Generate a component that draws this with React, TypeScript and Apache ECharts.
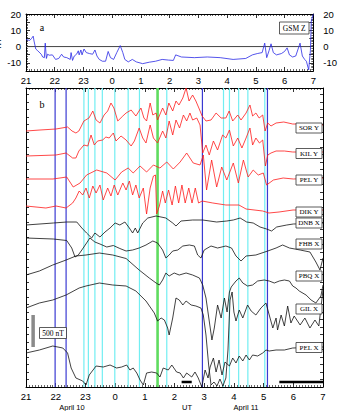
import React, { useEffect, useRef } from "react";
import * as echarts from "echarts";

// ---------- DATA (time in hours from 21 UT on April 10; 24+ = April 11) ----------
// Panel a: GSM Z (nT)
const GSM_Z: [number, number][] = [
  [21.0, 4.3], [21.13, 3.8], [21.19, 4.9], [21.25, 6.4], [21.28, 3.4], [21.34, -1.5], [21.41, -2.6], [21.53, -4.7],
  [21.58, -6.4], [21.64, -6.8], [21.67, 2.1], [21.71, -7.3], [21.75, -4.7], [21.81, -5.3], [21.92, -5.1], [22.03, -7.9],
  [22.14, -7.3], [22.24, -4.7], [22.31, -6.4], [22.42, -6.8], [22.54, -7.9], [22.57, -3.7], [22.62, -8.5], [22.68, -5.8],
  [22.76, -4.7], [22.82, -2.6], [22.85, -5.1], [22.91, -2.1], [22.95, -5.1], [23.02, -1.5], [23.1, -3.7], [23.21, -4.3],
  [23.32, -4.7], [23.4, -2.1], [23.47, -5.8], [23.55, -7.9], [23.66, -9.0], [23.77, -9.0], [23.86, -3.0], [23.94, -6.8],
  [24.05, -7.9], [24.16, -3.7], [24.28, 0.6], [24.37, -3.7], [24.44, -7.9], [24.56, -9.4], [24.7, -7.9], [24.84, -9.4],
  [25.06, -10.5], [25.29, -9.6], [25.51, -9.0], [25.74, -7.9], [25.96, -8.3], [26.13, -8.5], [26.21, -5.1], [26.41, -6.4],
  [26.86, -6.8], [27.31, -6.4], [27.76, -6.8], [28.21, -7.9], [28.65, -7.3], [28.88, -5.1], [29.05, -4.3], [29.22, -3.7],
  [29.31, 2.1], [29.38, -6.8], [29.46, -2.6], [29.53, 1.7], [29.61, -3.7], [29.72, -5.1], [29.89, -4.3], [30.0, -3.0],
  [30.09, -0.8], [30.17, -5.1], [30.28, -6.4], [30.39, -5.8], [30.54, 2.1], [30.62, -5.8], [30.7, -7.9], [30.76, -9.0],
  [30.84, -14.3], [30.9, -2.6], [30.93, 15.6], [31.0, 19.9],
];

// Panel b: stacked magnetograms (stack units; 32 units = 500 nT)
const SOR_Y: [number, number][] = [
  [21.0, 256], [21.47, 257], [22.01, 258], [22.4, 260], [22.55, 256], [22.68, 254], [22.78, 256], [22.95, 266],
  [23.12, 269], [23.25, 276], [23.36, 267], [23.49, 264], [23.63, 272], [23.75, 276], [23.86, 284], [23.96, 279],
  [24.09, 266], [24.26, 271], [24.37, 274], [24.54, 277], [24.7, 271], [24.87, 279], [24.97, 269], [25.06, 266],
  [25.18, 284], [25.27, 272], [25.38, 274], [25.43, 267], [25.6, 279], [25.71, 272], [25.81, 284], [25.94, 276],
  [26.05, 286], [26.15, 282], [26.28, 289], [26.39, 299], [26.49, 286], [26.61, 292], [26.72, 286], [26.82, 279],
  [26.93, 271], [27.06, 266], [27.23, 267], [27.4, 274], [27.57, 269], [27.73, 269], [27.84, 276], [27.96, 266],
  [28.13, 272], [28.24, 267], [28.41, 274], [28.54, 282], [28.63, 271], [28.74, 274], [28.85, 269], [28.97, 272],
  [29.05, 256], [29.14, 264], [29.25, 261], [29.42, 264], [29.68, 265], [29.98, 263], [30.23, 263], [30.56, 262], [31.0, 262],
];
const KIL_Y: [number, number][] = [
  [21.0, 231], [22.01, 232], [22.35, 234], [22.57, 229], [22.68, 229], [22.78, 236], [22.95, 242], [23.08, 241],
  [23.19, 252], [23.3, 242], [23.41, 246], [23.58, 247], [23.69, 250], [23.8, 249], [23.94, 254], [24.03, 246],
  [24.2, 251], [24.37, 247], [24.54, 241], [24.65, 246], [24.81, 259], [24.93, 249], [25.04, 244], [25.18, 262],
  [25.29, 249], [25.43, 244], [25.6, 256], [25.71, 249], [25.82, 266], [25.94, 252], [26.05, 267], [26.17, 259],
  [26.3, 272], [26.41, 266], [26.52, 274], [26.61, 267], [26.75, 269], [26.86, 262], [26.95, 234], [27.06, 242],
  [27.17, 232], [27.31, 246], [27.45, 237], [27.62, 252], [27.73, 249], [27.85, 257], [27.98, 241], [28.13, 249],
  [28.27, 239], [28.41, 249], [28.54, 259], [28.63, 242], [28.74, 249], [28.86, 244], [28.97, 247], [29.06, 221],
  [29.14, 232], [29.25, 234], [29.42, 236], [29.7, 236], [29.98, 235], [31.0, 235],
];
const PEL_Y: [number, number][] = [
  [21.0, 208], [21.91, 208], [22.37, 210], [22.59, 200], [22.82, 204], [23.04, 212], [23.38, 217], [23.72, 214],
  [24.0, 207], [24.22, 215], [24.44, 219], [24.61, 214], [24.84, 221], [25.06, 215], [25.29, 222], [25.51, 219],
  [25.74, 225], [25.96, 218], [26.19, 225], [26.41, 234], [26.63, 224], [26.86, 222], [26.97, 232], [27.08, 197],
  [27.25, 227], [27.42, 200], [27.59, 220], [27.76, 207], [27.98, 224], [28.15, 204], [28.32, 227], [28.48, 210],
  [28.65, 217], [28.82, 212], [28.99, 214], [29.1, 202], [29.33, 207], [29.66, 209], [30.0, 208], [31.0, 209],
];
const DIK_Y: [number, number][] = [
  [21.0, 181], [21.67, 179], [22.01, 181], [22.35, 179], [22.57, 184], [22.68, 189], [22.79, 196], [22.91, 192],
  [23.02, 199], [23.13, 189], [23.25, 201], [23.36, 194], [23.49, 202], [23.6, 187], [23.75, 199], [23.86, 191],
  [23.97, 202], [24.09, 192], [24.26, 204], [24.37, 197], [24.48, 206], [24.59, 192], [24.7, 202], [24.81, 189],
  [24.95, 199], [25.06, 173], [25.18, 199], [25.29, 211], [25.36, 212], [25.4, 173], [25.49, 181], [25.6, 196],
  [25.69, 184], [25.8, 197], [25.92, 182], [26.03, 201], [26.14, 184], [26.25, 202], [26.36, 184], [26.48, 199],
  [26.59, 184], [26.7, 199], [26.81, 184], [26.93, 186], [27.29, 184], [27.73, 182], [28.17, 182], [28.41, 178],
  [28.97, 176], [29.18, 174], [29.52, 175], [29.99, 177], [31.0, 177],
];
const DNB_X: [number, number][] = [
  [21.0, 162], [21.92, 164], [22.37, 165], [22.71, 165], [22.88, 159], [23.04, 154], [23.21, 149], [23.32, 154],
  [23.49, 150], [23.66, 155], [23.83, 159], [24.0, 164], [24.16, 162], [24.33, 165], [24.48, 159], [24.59, 154],
  [24.68, 159], [24.76, 154], [24.93, 164], [25.1, 169], [25.38, 171], [25.71, 169], [25.94, 164], [26.05, 161],
  [26.22, 166], [26.61, 167], [26.95, 167], [27.42, 165], [27.76, 166], [27.98, 167], [28.21, 169], [28.43, 165],
  [28.65, 164], [28.88, 160], [29.1, 158], [29.27, 156], [29.44, 160], [29.78, 162], [30.0, 163], [31.0, 164],
];
const FHB_X: [number, number][] = [
  [21.0, 149], [21.92, 148], [22.37, 146.5], [22.54, 139], [22.65, 130], [22.76, 132], [22.88, 137], [23.04, 144],
  [23.15, 149], [23.32, 145], [23.49, 143], [23.72, 140], [23.94, 141.5], [24.16, 138.5], [24.37, 136], [24.59, 137],
  [24.81, 139], [25.04, 142], [25.27, 146], [25.43, 144], [25.6, 137], [25.71, 129], [25.82, 132], [25.94, 136],
  [26.11, 137], [26.28, 141], [26.5, 142], [26.67, 141], [26.78, 132], [26.89, 129], [27.0, 137], [27.23, 141],
  [27.45, 139], [27.73, 141], [27.92, 139], [28.07, 131], [28.24, 126], [28.41, 131], [28.74, 132], [29.14, 136],
  [29.42, 139], [29.64, 142], [29.87, 139], [30.23, 137], [30.56, 135], [30.76, 125], [30.9, 117], [31.0, 129],
];
const PBQ_X: [number, number][] = [
  [21.0, 112], [21.45, 116], [21.9, 122], [22.35, 127], [22.68, 131], [23.02, 132], [23.47, 134], [23.92, 132],
  [24.37, 128.5], [24.81, 117], [25.15, 109], [25.38, 104], [25.49, 102], [25.6, 107], [25.71, 114], [25.82, 111],
  [25.99, 114], [26.16, 112], [26.39, 114], [26.61, 112], [26.84, 109], [26.95, 102], [27.06, 89], [27.17, 66],
  [27.26, 47], [27.34, 59], [27.45, 82], [27.57, 69], [27.68, 89], [27.77, 75], [27.85, 95], [27.91, 100],
  [28.07, 106], [28.18, 109], [28.3, 104], [28.46, 101], [28.63, 102], [28.8, 106], [29.02, 107], [29.19, 106],
  [29.36, 104], [29.53, 106], [29.7, 107], [29.87, 106], [29.98, 101], [30.09, 99], [30.2, 96], [30.43, 92],
  [30.6, 87], [30.76, 84], [30.93, 91], [31.0, 102],
];
const GIL_X: [number, number][] = [
  [21.0, 79], [21.45, 84], [21.9, 87], [22.35, 92], [22.79, 99], [23.02, 101], [23.47, 104], [23.92, 102],
  [24.37, 101], [24.7, 96], [25.04, 86], [25.32, 74], [25.43, 66], [25.55, 69], [25.66, 67], [25.77, 59],
  [25.82, 52], [25.94, 69], [26.05, 89], [26.16, 87], [26.28, 82], [26.39, 86], [26.56, 82], [26.72, 81],
  [26.89, 79], [26.97, 72], [27.06, 52], [27.15, 22], [27.23, 2], [27.33, 5], [27.43, 1], [27.53, 8],
  [27.63, 1], [27.73, 9], [27.8, 37], [27.87, 87], [27.94, 95], [28.0, 75], [28.07, 66], [28.18, 77],
  [28.3, 69], [28.46, 82], [28.58, 76], [28.74, 72], [28.91, 79], [29.08, 84], [29.19, 72], [29.31, 59],
  [29.42, 69], [29.47, 57], [29.59, 72], [29.7, 61], [29.81, 81], [29.92, 64], [30.03, 71], [30.23, 62],
  [30.39, 69], [30.56, 59], [30.73, 67], [30.86, 61], [31.0, 97],
];
const PEL_X: [number, number][] = [
  [21.0, 34], [21.45, 37], [21.9, 41], [22.24, 39], [22.4, 34], [22.52, 19], [22.68, 9], [22.91, 6],
  [23.02, 2], [23.13, 12], [23.36, 21], [23.6, 20], [23.83, 22], [24.05, 19], [24.22, 20], [24.39, 22],
  [24.5, 17], [24.61, 19], [24.73, 14], [24.84, 7], [24.95, 2], [25.06, 14], [25.23, 15], [25.4, 14],
  [25.51, 10], [25.62, 19], [25.79, 17], [25.91, 22], [26.07, 15], [26.19, 14], [26.3, 9], [26.41, 14],
  [26.58, 10], [26.69, 15], [26.8, 9], [26.92, 0], [27.03, 17], [27.13, 9], [27.2, 20], [27.31, 29],
  [27.4, 15], [27.5, 27], [27.6, 12], [27.7, 25], [27.85, 21], [27.96, 29], [28.07, 24], [28.18, 31],
  [28.3, 26], [28.41, 32], [28.52, 27], [28.63, 32], [28.8, 31], [28.97, 34], [29.08, 37], [29.19, 36],
  [29.42, 37], [29.7, 37], [29.98, 39], [31.0, 40],
];

// Event markers (UT hours)
const BLUE_LINES = [21.98, 22.35, 26.94, 29.13];
const CYAN_LINES = [22.95, 23.1, 23.32, 23.57, 23.99, 24.44, 24.82, 25.74, 27.65, 27.85, 28.16, 28.47, 29.04];
const GREEN_LINES = [25.43];
// Horizontal time bars at the bottom of panel b
const TIME_BARS: [number, number][] = [[26.24, 26.58], [29.53, 31.0]];
// Scale bar: 500 nT = 32 stack units
const SCALE_NT = 500;
const UNITS_PER_500NT = 32;

const STATIONS = ["SOR Y", "KIL Y", "PEL Y", "DIK Y", "DNB X", "FHB X", "PBQ X", "GIL X", "PEL X"];
const STATION_DATA = [SOR_Y, KIL_Y, PEL_Y, DIK_Y, DNB_X, FHB_X, PBQ_X, GIL_X, PEL_X];

// ---------- LAYOUT / STYLE ----------
const RED = "#ff1a1a";
const BLACK = "#111";
const BLUE = "#3a3ad2";
const CYAN = "#72eef2";
const GREEN = "#5fdc5f";
const SANS = "Liberation Sans";
const SERIF = "Liberation Serif";
const B_MIN = 0;
const B_MAX = 299;
const BOX_CY = [128, 153.5, 180, 212, 223, 244, 276, 309, 347.5];

function xAxis(gridIndex: number, position: "top" | "bottom", showLabel: boolean) {
  return {
    type: "value",
    gridIndex,
    position,
    min: 21,
    max: 31,
    interval: 1,
    axisLine: { show: true, onZero: false, lineStyle: { color: "#000", width: 1 } },
    axisTick: { show: true, inside: true, length: 4, lineStyle: { color: "#000", width: 0.8 } },
    minorTick: { show: true, splitNumber: 10, length: 2, lineStyle: { color: "#000", width: 0.6 } },
    splitLine: { show: false },
    axisLabel: {
      show: showLabel,
      formatter: (v: number) => String(Math.round(v) % 24),
      fontSize: 9.5,
      fontFamily: SANS,
      color: "#000",
      margin: 4,
    },
  };
}

function yAxisA(position: "left" | "right") {
  return {
    type: "value",
    gridIndex: 0,
    position,
    min: -15,
    max: 20,
    interval: 5,
    axisLine: { show: true, onZero: false, lineStyle: { color: "#000", width: 1 } },
    axisTick: { show: true, inside: true, length: 4, lineStyle: { color: "#000", width: 0.8 } },
    minorTick: { show: true, splitNumber: 5, length: 2, lineStyle: { color: "#000", width: 0.6 } },
    splitLine: { show: false },
    axisLabel: {
      show: true,
      formatter: (v: number) => (Math.round(v) % 10 === 0 ? String(Math.round(v)) : ""),
      fontSize: 9.5,
      fontFamily: SANS,
      color: "#000",
      margin: position === "left" ? 5 : 10,
    },
  };
}

function yAxisB(position: "left" | "right") {
  return {
    type: "value",
    gridIndex: 1,
    position,
    min: B_MIN,
    max: B_MAX,
    interval: 7.5,
    axisLine: { show: true, onZero: false, lineStyle: { color: "#000", width: 1 } },
    axisTick: { show: true, inside: true, length: 3, lineStyle: { color: "#000", width: 0.8 } },
    splitLine: { show: false },
    axisLabel: { show: false },
  };
}

function vline(t: number, color: string, width: number) {
  return {
    type: "line",
    xAxisIndex: 2,
    yAxisIndex: 2,
    data: [[t, B_MIN], [t, B_MAX]],
    symbol: "none",
    silent: true,
    z: 1,
    lineStyle: { color, width },
  };
}

function txt(text: string, x: number, y: number, fontSize: number, fontFamily: string, rotation = 0) {
  return {
    type: "text",
    z: 101,
    x,
    y,
    rotation,
    style: { text, fontSize, fontFamily, fill: "#000", align: "center", verticalAlign: "middle" },
  };
}

function buildOption() {
  const series: any[] = [];
  // Panel a
  series.push({
    type: "line",
    xAxisIndex: 0,
    yAxisIndex: 0,
    data: [[21, 0], [31, 0]],
    symbol: "none",
    silent: true,
    z: 1,
    lineStyle: { color: "#444", width: 1 },
  });
  series.push({
    type: "line",
    xAxisIndex: 0,
    yAxisIndex: 0,
    data: GSM_Z,
    symbol: "none",
    z: 2,
    lineStyle: { color: "#2a2ae6", width: 0.8 },
  });
  // Panel b event lines
  BLUE_LINES.forEach((t) => series.push(vline(t, BLUE, 1.2)));
  CYAN_LINES.forEach((t) => series.push(vline(t, CYAN, 1.2)));
  GREEN_LINES.forEach((t) => series.push(vline(t, GREEN, 2.6)));
  // Traces
  STATION_DATA.forEach((d, i) => {
    series.push({
      type: "line",
      name: STATIONS[i],
      xAxisIndex: 2,
      yAxisIndex: 2,
      data: d,
      symbol: "none",
      z: 3,
      lineStyle: { color: i < 4 ? RED : BLACK, width: 0.8 },
    });
  });
  // Scale bar
  series.push({
    type: "line",
    xAxisIndex: 2,
    yAxisIndex: 2,
    data: [[21.24, 40], [21.24, 40 + UNITS_PER_500NT * (SCALE_NT / 500)]],
    symbol: "none",
    silent: true,
    z: 4,
    lineStyle: { color: "#8a8a8a", width: 3.5 },
  });
  // Time bars
  TIME_BARS.forEach(([a, b]) => {
    series.push({
      type: "line",
      xAxisIndex: 2,
      yAxisIndex: 2,
      data: [[a, 5], [b, 5]],
      symbol: "none",
      silent: true,
      z: 4,
      lineStyle: { color: "#000", width: 2.5 },
    });
  });

  const boxW = 26;
  const boxH = 10;
  const graphics: any[] = [];
  STATIONS.forEach((name, i) => {
    graphics.push({
      type: "rect",
      z: 100,
      shape: { x: 296, y: BOX_CY[i] - boxH / 2, width: boxW, height: boxH },
      style: { fill: "#fff", stroke: "#333", lineWidth: 0.8 },
    });
    graphics.push(txt(name, 296 + boxW / 2, BOX_CY[i], 7, SERIF));
  });
  // GSM Z box
  graphics.push({
    type: "rect",
    z: 100,
    shape: { x: 279.5, y: 22, width: 29.5, height: 12 },
    style: { fill: "#fff", stroke: "#333", lineWidth: 0.8 },
  });
  graphics.push(txt("GSM Z", 294.2, 28, 7.5, SERIF));
  // 500 nT box
  graphics.push({
    type: "rect",
    z: 100,
    shape: { x: 39.5, y: 327.5, width: 27, height: 11 },
    style: { fill: "#fff", stroke: "#333", lineWidth: 0.8 },
  });
  graphics.push(txt("500 nT", 53, 333, 7.5, SERIF));
  // Panel letters
  graphics.push(txt("a", 42, 27, 10, SERIF));
  graphics.push(txt("b", 42, 104, 10, SERIF));
  // Left unit label of panel a (mostly cut by the page edge)
  graphics.push(txt("nT", -3, 43, 9.5, SANS, Math.PI / 2));
  // Bottom annotations
  graphics.push(txt("April 10", 72, 407, 7.5, SANS));
  graphics.push(txt("UT", 187, 407, 7.5, SANS));
  graphics.push(txt("April 11", 246, 407, 7.5, SANS));

  return {
    animation: false,
    backgroundColor: "#fff",
    grid: [
      { left: 26, right: 17, top: 14, height: 57, containLabel: false },
      { left: 26, right: 17, top: 88, height: 299, containLabel: false },
    ],
    xAxis: [xAxis(0, "bottom", true), xAxis(0, "top", false), xAxis(1, "bottom", true), xAxis(1, "top", false)],
    yAxis: [yAxisA("left"), yAxisA("right"), yAxisB("left"), yAxisB("right")],
    series,
    graphic: graphics,
  };
}

export default function App() {
  const ref = useRef<HTMLDivElement>(null);
  useEffect(() => {
    document.body.style.margin = "0";
    const chart = echarts.init(ref.current!, null, { renderer: "svg" });
    chart.setOption(buildOption() as any);
    return () => chart.dispose();
  }, []);
  return <div ref={ref} style={{ width: 340, height: 411 }} />;
}
